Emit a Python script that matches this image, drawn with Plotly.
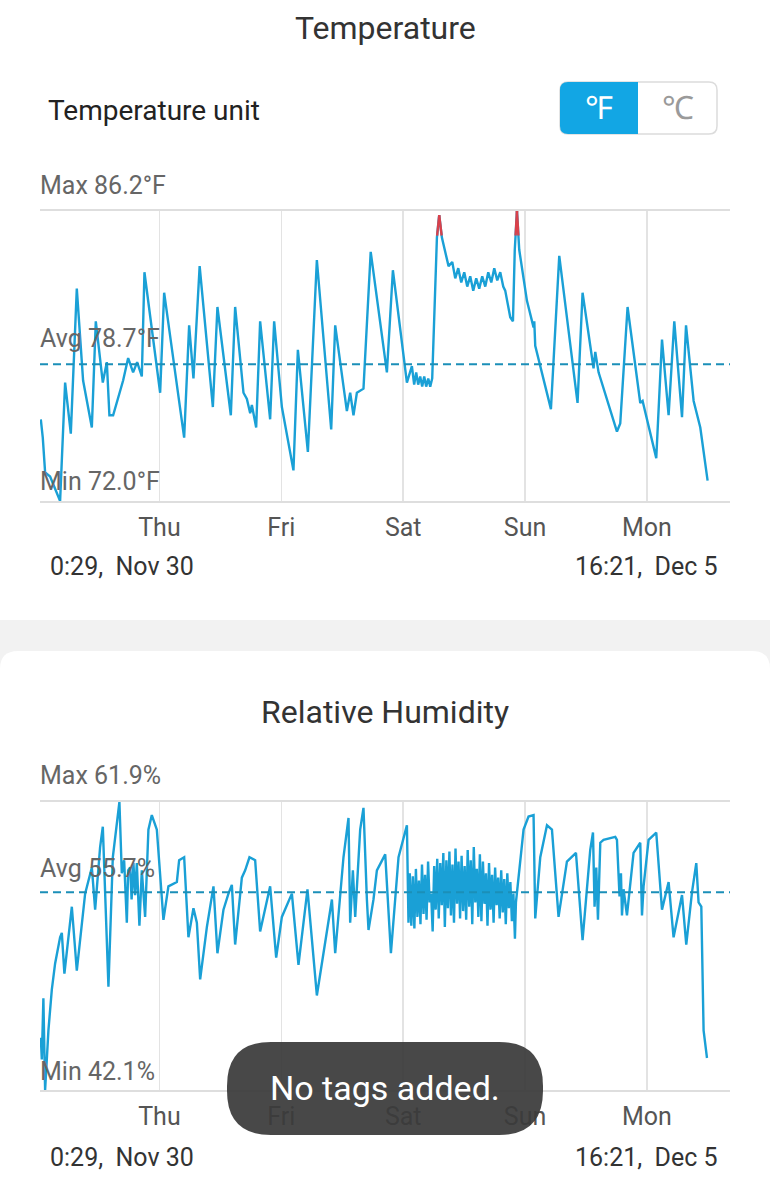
import plotly.graph_objects as go

W, H = 770, 1200

# ---------------- data (hours since Nov 30 00:00) ----------------
temp_t = [0.64, 1.03, 1.49, 2.47, 4.44, 5.43, 6.55, 7.73, 8.97, 10.69, 11.47, 12.85, 13.64, 14.15,
          14.88, 15.67, 16.85, 17.84, 18.82, 19.61, 20.53, 21.05, 24.14, 24.93, 28.87, 29.85, 30.70,
          31.92, 34.52, 35.42, 38.06, 38.91, 40.55, 41.22, 41.87, 42.20, 43.05, 43.83, 45.80, 46.59,
          48.11, 50.39, 51.26, 53.23, 55.00, 57.82, 58.61, 60.91, 61.56, 62.21, 62.88, 64.18, 65.60,
          68.79, 69.97, 72.73, 73.71, 74.16, 74.56, 74.95, 75.35, 75.74, 76.14, 76.53, 76.93, 77.32,
          77.71, 78.64, 79.09, 79.62, 80.93, 81.66, 82.25, 82.84, 83.43, 84.02, 84.61, 85.20, 85.79,
          86.38, 86.97, 87.56, 88.16, 88.75, 89.34, 89.93, 90.52, 91.11, 91.70, 92.09, 93.08, 93.61,
          93.97, 94.40, 94.85, 96.37, 97.67, 97.81, 98.00, 101.09, 102.73, 106.33, 107.32, 109.48,
          109.82, 110.47, 114.09, 114.74, 116.18, 118.68, 119.14, 121.83, 122.96, 124.26, 125.38,
          126.90, 127.69, 129.19, 130.50, 131.94]
temp_v = [76.0, 75.1, 73.4, 73.2, 72.0, 77.8, 75.3, 82.4, 77.9, 75.6, 80.8, 77.8, 78.8, 76.2,
          76.2, 76.9, 77.9, 79.0, 78.3, 78.8, 78.1, 83.2, 77.3, 82.2, 75.1, 80.6, 78.0,
          83.5, 76.6, 81.5, 76.2, 81.5, 77.3, 77.0, 76.3, 76.7, 75.6, 80.8, 76.0, 80.8,
          76.6, 73.5, 79.4, 74.4, 83.8, 75.5, 80.6, 76.4, 77.3, 76.2, 77.3, 77.5, 84.2,
          78.3, 83.3, 77.8, 78.6, 77.7, 78.3, 77.7, 78.1, 77.6, 78.1, 77.6, 78.0, 77.6,
          78.0, 84.9, 86.0, 84.9, 83.5, 83.7, 82.9, 83.4, 82.7, 83.2, 82.5, 83.0, 82.3,
          82.9, 82.4, 83.0, 82.5, 83.2, 82.7, 83.4, 82.8, 83.2, 82.5, 82.3, 81.0, 80.8,
          84.3, 86.2, 84.3, 81.8, 80.5, 80.8, 79.6, 76.5, 84.0, 76.8, 82.2, 78.5,
          79.3, 78.3, 75.4, 75.8, 81.5, 76.8, 76.9, 74.1, 79.9, 76.2, 80.8,
          76.1, 80.6, 76.9, 75.6, 73.0]

hum_t = [0.64, 0.84, 1.15, 1.49, 2.14, 2.81, 3.46, 4.44, 4.78, 5.29, 6.75, 7.73, 9.37, 10.69, 11.34,
         12.32, 12.85, 13.31, 13.96, 14.82, 16.12, 16.59, 17.05, 17.58, 17.84, 18.23, 18.52, 18.88,
         19.21, 19.55, 20.06, 20.53, 21.18, 21.83, 22.50, 23.49, 24.14, 24.79, 25.77, 27.43, 27.88,
         28.87, 29.71, 30.70, 31.37, 32.02, 33.34, 34.64, 35.42, 36.61, 37.59, 38.26, 38.91, 40.23,
         40.88, 41.73, 42.85, 43.83, 45.80, 46.99, 48.11, 50.08, 51.38, 53.15, 55.00, 57.96, 58.61,
         60.24, 61.23, 61.56, 62.09, 62.55, 63.53, 64.18, 64.85, 65.17, 66.15, 66.82, 68.46, 69.58,
         71.08, 72.73, 73.04,
         73.3, 73.6, 73.9, 74.2, 74.5, 74.8, 75.1, 75.4, 75.7, 76.0, 76.3, 76.6, 76.9, 77.2, 77.5,
         77.8, 78.1, 78.4, 78.7, 79.0, 79.3, 79.6, 79.9, 80.2, 80.5, 80.8, 81.1, 81.4, 81.7, 82.0,
         82.3, 82.6, 82.9, 83.2, 83.5, 83.8, 84.1, 84.4, 84.7, 85.0, 85.3, 85.6, 85.9, 86.2, 86.5,
         86.8, 87.1, 87.4, 87.7, 88.0, 88.3, 88.6, 88.9, 89.2, 89.5, 89.8, 90.1, 90.4, 90.7, 91.0,
         91.3, 91.6, 91.9, 92.2, 92.5, 92.8, 93.1, 93.4, 93.7, 94.0, 94.2,
         95.70, 96.68, 97.67, 98.00, 98.99, 100.31, 101.29, 102.59, 104.24, 105.23, 106.02, 107.32,
         108.83, 109.37, 109.68, 110.02, 110.35, 110.81, 111.45, 113.76, 114.09, 114.60, 114.88,
         115.08, 115.39, 116.06, 117.36, 118.68, 119.02, 119.33, 120.32, 121.83, 122.96, 124.26,
         125.24, 126.90, 127.74, 128.87, 129.71, 130.16, 130.70, 131.15, 131.82]
hum_v = [45.7, 44.2, 48.4, 42.1, 46.2, 49.0, 50.8, 52.6, 52.9, 50.1, 54.7, 50.3, 55.6, 57.4, 54.5,
         58.8, 60.2, 55.4, 49.2, 58.1, 61.9, 57.0, 57.9, 53.6, 57.2, 57.4, 55.2, 57.7,
         55.5, 57.7, 53.4, 57.2, 54.0, 60.0, 61.0, 60.0, 57.2, 53.8, 56.1, 56.4, 57.9,
         58.1, 52.6, 54.6, 53.6, 49.7, 53.3, 56.1, 51.5, 54.5, 55.6, 56.2, 52.1, 56.7,
         57.2, 58.1, 57.9, 53.0, 56.1, 51.2, 54.0, 55.6, 50.7, 55.9, 48.6, 55.2, 51.5,
         58.1, 60.8, 53.6, 57.2, 54.0, 60.0, 61.5, 55.2, 53.1, 55.2, 57.2, 58.3, 51.5,
         58.1, 60.3, 53.6,
         57.0, 53.4, 56.8, 53.2, 57.3, 54.0, 56.5, 53.5, 57.6, 54.2, 56.9, 53.8, 57.8, 55.0, 55.6,
         53.0, 57.5, 54.5, 58.0, 53.9, 57.7, 54.8, 58.4, 53.3, 57.9, 54.6, 58.5, 54.1, 57.6, 53.6,
         58.7, 54.9, 57.8, 53.9, 58.2, 54.4, 57.5, 53.8, 58.6, 54.7, 57.9, 53.5, 58.8, 55.0, 57.3,
         54.0, 58.3, 53.7, 57.8, 54.9, 57.0, 53.4, 57.7, 54.5, 56.9, 53.6, 57.4, 54.8, 56.7, 53.9,
         57.2, 54.3, 56.6, 53.5, 57.0, 54.6, 56.4, 53.7, 55.6, 52.5, 55.0,
         60.0, 60.9, 61.0, 53.9, 58.1, 60.3, 60.0, 54.0, 57.8, 58.1, 58.4, 52.4,
         58.6, 59.8, 54.7, 57.4, 53.8, 59.1, 59.3, 59.5, 59.3, 55.4, 57.0,
         54.1, 55.9, 54.1, 58.4, 59.1, 54.1, 56.1, 59.3, 59.8, 54.5, 56.4,
         52.6, 55.5, 52.1, 55.7, 57.7, 55.0, 54.7, 46.2, 44.3]

day_ticks = [24, 48, 72, 96, 120]
day_labels = ["Thu", "Fri", "Sat", "Sun", "Mon"]
t_start, t_end = 0.483, 136.35
start_label, end_label = "0:29,  Nov 30", "16:21,  Dec 5"

temp_max, temp_avg, temp_min = 86.2, 78.7, 72.0
hum_max, hum_avg, hum_min = 61.9, 55.7, 42.1
temp_alert = 85.0

BLUE = "#1aa0d6"
AVG = "#1b8fb8"
RED = "#d9414b"
FONT = "Roboto"


def above(ts, vs, thr):
    xs, ys = [], []
    for i in range(len(ts) - 1):
        a, b = vs[i], vs[i + 1]
        if a < thr and b < thr:
            continue
        ta, tb = ts[i], ts[i + 1]
        if a < thr:
            ta = ts[i] + (thr - a) / (b - a) * (ts[i + 1] - ts[i])
            a = thr
        if b < thr:
            tb = ts[i] + (thr - vs[i]) / (vs[i + 1] - vs[i]) * (ts[i + 1] - ts[i])
            b = thr
        xs += [ta, tb, None]
        ys += [a, b, None]
    return xs, ys


def px(x):
    return x / W


def py(y):
    return 1 - y / H


def rrect(x0, y0, x1, y1, r):
    pts = [
        ("M", x0 + r, y0), ("L", x1 - r, y0), ("Q", x1, y0, x1, y0 + r),
        ("L", x1, y1 - r), ("Q", x1, y1, x1 - r, y1), ("L", x0 + r, y1),
        ("Q", x0, y1, x0, y1 - r), ("L", x0, y0 + r), ("Q", x0, y0, x0 + r, y0),
    ]
    s = ""
    for p in pts:
        cmd = p[0]
        coords = p[1:]
        parts = []
        for j in range(0, len(coords), 2):
            parts.append(f"{px(coords[j]):.5f},{py(coords[j+1]):.5f}")
        s += cmd + " ".join(parts) + " "
    return s + "Z"


def lrect(x0, y0, x1, y1, r):
    # rounded on left side only
    s = (f"M{px(x0 + r):.5f},{py(y0):.5f} L{px(x1):.5f},{py(y0):.5f} L{px(x1):.5f},{py(y1):.5f} "
         f"L{px(x0 + r):.5f},{py(y1):.5f} Q{px(x0):.5f},{py(y1):.5f} {px(x0):.5f},{py(y1 - r):.5f} "
         f"L{px(x0):.5f},{py(y0 + r):.5f} Q{px(x0):.5f},{py(y0):.5f} {px(x0 + r):.5f},{py(y0):.5f} Z")
    return s


fig = go.Figure()

fig.add_trace(go.Scatter(x=temp_t, y=temp_v, mode="lines", line=dict(color=BLUE, width=2.4),
                         xaxis="x", yaxis="y", hoverinfo="skip"))
rx, ry = above(temp_t, temp_v, temp_alert)
fig.add_trace(go.Scatter(x=rx, y=ry, mode="lines", line=dict(color=RED, width=2.4),
                         xaxis="x", yaxis="y", hoverinfo="skip", connectgaps=False))
fig.add_trace(go.Scatter(x=hum_t, y=hum_v, mode="lines", line=dict(color=BLUE, width=2.4),
                         xaxis="x2", yaxis="y2", hoverinfo="skip"))

xdom = [40 / W, 730 / W]
axis_common = dict(range=[t_start, t_end], tickvals=day_ticks, ticktext=day_labels,
                   showgrid=True, gridcolor="#e3e3e3", gridwidth=1.5, zeroline=False,
                   showline=True, mirror=True, linecolor="#dedede", linewidth=2,
                   ticks="outside", ticklen=3, tickcolor="rgba(0,0,0,0)",
                   tickfont=dict(family=FONT, size=25, color="#555555"), fixedrange=True)

fig.update_layout(
    width=W, height=H, margin=dict(l=0, r=0, t=0, b=0),
    paper_bgcolor="white", plot_bgcolor="rgba(0,0,0,0)", showlegend=False,
    font=dict(family=FONT),
    xaxis=dict(domain=xdom, anchor="y", **axis_common),
    yaxis=dict(domain=[py(501), py(211)], range=[temp_min, temp_max], anchor="x",
               showgrid=False, zeroline=False, showticklabels=False, fixedrange=True),
    xaxis2=dict(domain=xdom, anchor="y2", **axis_common),
    yaxis2=dict(domain=[py(1090), py(802)], range=[hum_min, hum_max], anchor="x2",
                showgrid=False, zeroline=False, showticklabels=False, fixedrange=True),
)

shapes = [
    # gray separator band and rounded white card
    dict(type="rect", xref="paper", yref="paper", x0=0, x1=1, y0=py(700), y1=py(620),
         fillcolor="#f2f2f2", line=dict(width=0), layer="below"),
    dict(type="path", xref="paper", yref="paper", path=rrect(0, 651, 770, 1260, 18),
         fillcolor="white", line=dict(width=0), layer="below"),
    # unit toggle
    dict(type="path", xref="paper", yref="paper", path=rrect(560, 82, 717, 134, 8),
         fillcolor="white", line=dict(color="#dcdcdc", width=1.5), layer="below"),
    dict(type="path", xref="paper", yref="paper", path=lrect(560, 82, 638, 134, 8),
         fillcolor="#12a6e4", line=dict(width=0), layer="below"),
    # average lines
    dict(type="line", xref="x", yref="y", x0=t_start, x1=t_end, y0=temp_avg, y1=temp_avg,
         line=dict(color=AVG, width=2, dash="8px,5px")),
    dict(type="line", xref="x2", yref="y2", x0=t_start, x1=t_end, y0=hum_avg, y1=hum_avg,
         line=dict(color=AVG, width=2, dash="8px,5px")),
    # toast
    dict(type="path", xref="paper", yref="paper", path=rrect(227, 1042, 543, 1135, 44),
         fillcolor="rgba(58,58,58,0.93)", line=dict(width=0), layer="above"),
]
fig.update_layout(shapes=shapes)


def ann(text, x, y, size, color, xanchor="center"):
    return dict(text=text, x=px(x), y=py(y), xref="paper", yref="paper", showarrow=False,
                xanchor=xanchor, yanchor="middle",
                font=dict(family=FONT, size=size, color=color))


annotations = [
    ann("Temperature", 385, 28, 32, "#333333"),
    ann("Temperature unit", 46, 110, 28, "#222222", "left"),
    ann("℉", 599, 108, 32, "white"),
    ann("℃", 678, 108, 32, "#9a9a9a"),
    ann(f"Max {temp_max:.1f}°F", 38, 185, 25, "#666666", "left"),
    ann(f"Avg {temp_avg:.1f}°F", 38, 338, 25, "#666666", "left"),
    ann(f"Min {temp_min:.1f}°F", 38, 481, 25, "#666666", "left"),
    ann(start_label, 48, 567, 25, "#333333", "left"),
    ann(end_label, 720, 567, 25, "#333333", "right"),
    ann("Relative Humidity", 385, 712, 32, "#333333"),
    ann(f"Max {hum_max:.1f}%", 38, 776, 25, "#666666", "left"),
    ann(f"Avg {hum_avg:.1f}%", 38, 868, 25, "#666666", "left"),
    ann(f"Min {hum_min:.1f}%", 38, 1071, 25, "#666666", "left"),
    ann(start_label, 48, 1157, 25, "#333333", "left"),
    ann(end_label, 720, 1157, 25, "#333333", "right"),
    ann("No tags added.", 385, 1088, 34, "white"),
]
fig.update_layout(annotations=annotations)

fig.write_html("out.html", config={"displayModeBar": False, "staticPlot": True})
